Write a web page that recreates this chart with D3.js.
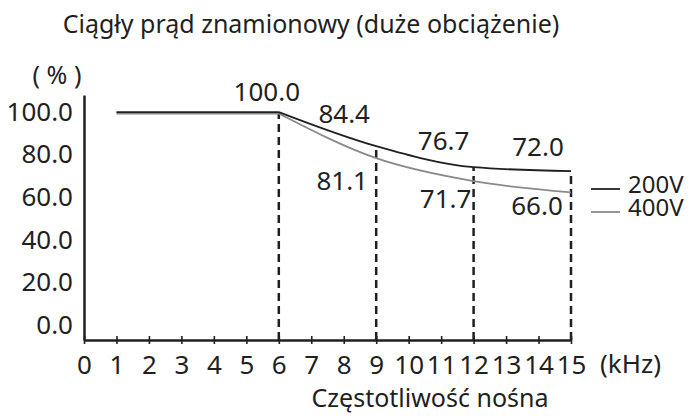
<!DOCTYPE html>
<html>
<head>
<meta charset="utf-8">
<script src="https://cdn.jsdelivr.net/npm/d3@7"></script>
<style>
  body { margin: 0; background: #fff; }
  text { font-family: "Noto Sans", sans-serif; fill: #231f20; }
</style>
</head>
<body>
<script>
// carrier frequency axis (kHz)
var kHzTicks = d3.range(0, 16);
var pctTicks = [0, 20, 40, 60, 80, 100];

// curve points
var freq = [1, 6, 9, 12, 15];
var v200 = [100, 100, 84.0, 74.1, 72.2];
var v400 = [99.3, 99.3, 78.3, 67.5, 62.3];

// printed values at the dashed markers
var markFreq = [6, 9, 12, 15];
var text200 = ["100.0", "84.4", "76.7", "72.0"];
var text400 = ["", "81.1", "71.7", "66.0"];

var seriesNames = ["200V", "400V"];
var seriesColors = ["#231f20", "#8a8a8a"];

var W = 693, H = 416;
var numSize = "26px";
var svg = d3.select("body").append("svg")
    .attr("width", W)
    .attr("height", H);

var x = d3.scaleLinear().domain([0, 15]).range([84, 571]);
var y = d3.scaleLinear().domain([-7.1, 108]).range([340, 95]);

// title
svg.append("text")
    .attr("x", 311).attr("y", 33)
    .attr("text-anchor", "middle")
    .style("font-size", "25px")
    .text("Ciągły prąd znamionowy (duże obciążenie)");

svg.append("text")
    .attr("x", 57).attr("y", 75).attr("dy", "0.35em")
    .attr("text-anchor", "middle")
    .style("font-size", "25px")
    .text("( % )");

// y axis, no tick marks
var yAxis = svg.append("g")
    .attr("transform", "translate(" + x(0) + ",0)")
    .call(d3.axisLeft(y).tickValues(pctTicks).tickSize(0).tickPadding(11)
        .tickFormat(d3.format(".1f")));
yAxis.select(".domain").attr("stroke", "#231f20").attr("stroke-width", 2.5);
yAxis.selectAll("text")
    .style("font-size", numSize)
    .style("font-family", "'Noto Sans', sans-serif")
    .attr("fill", "#231f20");

// x axis, ticks cross the line
var xAxis = svg.append("g")
    .attr("transform", "translate(0," + y(-7.1) + ")")
    .call(d3.axisBottom(x).tickValues(kHzTicks).tickSizeOuter(0));
xAxis.select(".domain").attr("stroke", "#231f20").attr("stroke-width", 2.5);
xAxis.selectAll(".tick line")
    .attr("y1", -4).attr("y2", 4)
    .attr("stroke", "#231f20").attr("stroke-width", 1.6);
xAxis.selectAll(".tick text")
    .attr("y", 25).attr("dy", "0.35em")
    .style("font-size", numSize)
    .style("font-family", "'Noto Sans', sans-serif")
    .attr("fill", "#231f20");

svg.append("text")
    .attr("x", 600).attr("y", 364).attr("dy", "0.35em")
    .style("font-size", numSize)
    .text("(kHz)");

svg.append("text")
    .attr("x", 430).attr("y", 398).attr("dy", "0.35em")
    .attr("text-anchor", "middle")
    .style("font-size", "25px")
    .text("Częstotliwość nośna");

// dashed markers up to the 200V curve
markFreq.forEach(function(f) {
  var i = freq.indexOf(f);
  svg.append("line")
      .attr("x1", x(f)).attr("x2", x(f))
      .attr("y1", y(-7.1)).attr("y2", y(v200[i]))
      .attr("stroke", "#231f20")
      .attr("stroke-width", 2.5)
      .attr("stroke-dasharray", "8,5");
});

// curves: flat part then a smooth fall-off
function drawCurve(vals, color, width) {
  var pts = freq.map(function(f, i) { return [f, vals[i]]; });
  var flat = d3.line().x(function(d) { return x(d[0]); }).y(function(d) { return y(d[1]); });
  var bend = d3.line().curve(d3.curveMonotoneX)
      .x(function(d) { return x(d[0]); }).y(function(d) { return y(d[1]); });
  svg.append("path").attr("d", flat(pts.slice(0, 2)))
      .attr("fill", "none").attr("stroke", color).attr("stroke-width", width);
  svg.append("path").attr("d", bend(pts.slice(1)))
      .attr("fill", "none").attr("stroke", color).attr("stroke-width", width);
}
drawCurve(v400, seriesColors[1], 1.8);
drawCurve(v200, seriesColors[0], 1.8);

// value labels
var dx200 = [-12, -32, -30, -33], dy200 = [-20, -32, -26, -24];
var dx400 = [0, -34, -28, -34], dy400 = [0, 23, 18, 14];
markFreq.forEach(function(f, k) {
  var i = freq.indexOf(f);
  svg.append("text")
      .attr("x", x(f) + dx200[k]).attr("y", y(v200[i]) + dy200[k]).attr("dy", "0.35em")
      .attr("text-anchor", "middle")
      .style("font-size", numSize)
      .text(text200[k]);
  if (text400[k]) {
    svg.append("text")
        .attr("x", x(f) + dx400[k]).attr("y", y(v400[i]) + dy400[k]).attr("dy", "0.35em")
        .attr("text-anchor", "middle")
        .style("font-size", numSize)
        .text(text400[k]);
  }
});

// legend
seriesNames.forEach(function(name, i) {
  var ly = 189 + i * 23;
  svg.append("line")
      .attr("x1", 591).attr("x2", 620)
      .attr("y1", ly).attr("y2", ly)
      .attr("stroke", seriesColors[i]).attr("stroke-width", 1.8);
  svg.append("text")
      .attr("x", 628).attr("y", ly - 4).attr("dy", "0.35em")
      .style("font-size", "24px")
      .text(name);
});
</script>
</body>
</html>
